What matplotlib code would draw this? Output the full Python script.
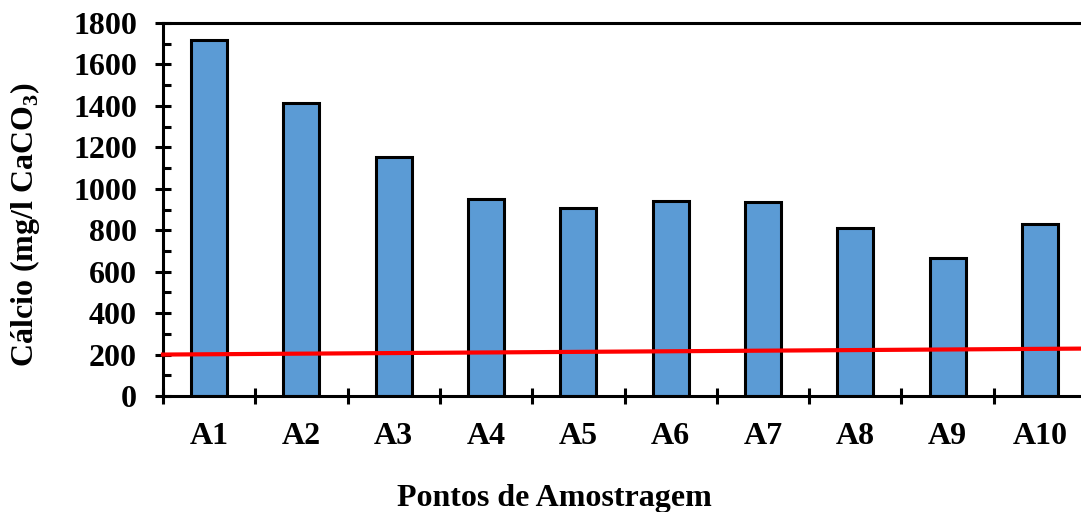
import numpy as np
import matplotlib.pyplot as plt
from matplotlib.ticker import MultipleLocator, FixedLocator

# Data
pontos = ["A1", "A2", "A3", "A4", "A5", "A6", "A7", "A8", "A9", "A10"]
calcio = [1720, 1412, 1153, 951, 907, 941, 936, 812, 667, 831]

# Reference limit line (red), drawn across the whole axis
limite_x = [-0.5, 9.55]
limite_y = [200, 229]

plt.rcParams["font.family"] = ["Liberation Serif", "DejaVu Serif"]
plt.rcParams["font.weight"] = "bold"
plt.rcParams["mathtext.fontset"] = "custom"
plt.rcParams["mathtext.rm"] = "Liberation Serif:bold"
plt.rcParams["mathtext.bf"] = "Liberation Serif:bold"

fig = plt.figure(figsize=(10.81, 5.12), dpi=100)
ax = fig.add_axes([163 / 1081, 1 - 396 / 512, 923 / 1081, 373 / 512])

x = np.arange(len(pontos))
ax.bar(x, calcio, width=0.39, color="#5B9BD5", edgecolor="black",
       linewidth=2.2, zorder=2)
ax.plot(limite_x, limite_y, color="#FF0000", linewidth=3, zorder=3,
        clip_on=False)

ax.set_xlim(-0.5, 9.5)
ax.set_ylim(0, 1800)

ax.yaxis.set_major_locator(MultipleLocator(200))
ax.yaxis.set_minor_locator(MultipleLocator(100))
ax.xaxis.set_major_locator(FixedLocator(np.arange(-0.5, 10, 1)))
ax.xaxis.set_minor_locator(FixedLocator(x))
ax.set_xticklabels([])
ax.set_xticks(x, labels=pontos, minor=True)

ax.tick_params(axis="y", which="major", direction="inout", length=11.5,
               width=2.2, labelsize=23, pad=13)
ax.tick_params(axis="y", which="minor", direction="in", length=6, width=2.2)
ax.tick_params(axis="x", which="major", direction="inout", length=12,
               width=2.2)
ax.tick_params(axis="x", which="minor", direction="in", length=4, width=2.2,
               labelsize=23, pad=19)
for lab in ax.get_yticklabels() + ax.get_xticklabels(minor=True):
    lab.set_fontweight("bold")

for side in ["left", "bottom", "top"]:
    ax.spines[side].set_linewidth(2.2)
ax.spines["right"].set_visible(False)

ax.set_ylabel(r"Cálcio (mg/l CaCO$_\mathbf{3}$)", fontsize=23,
              fontweight="bold")
ax.yaxis.set_label_coords((42 - 163) / 923, (396 - 225) / 373)
ax.set_xlabel("Pontos de Amostragem", fontsize=23, fontweight="bold")
ax.xaxis.set_label_coords((554 - 163) / 923, -(484 - 396) / 373)

fig.savefig("out.png", dpi=100)
